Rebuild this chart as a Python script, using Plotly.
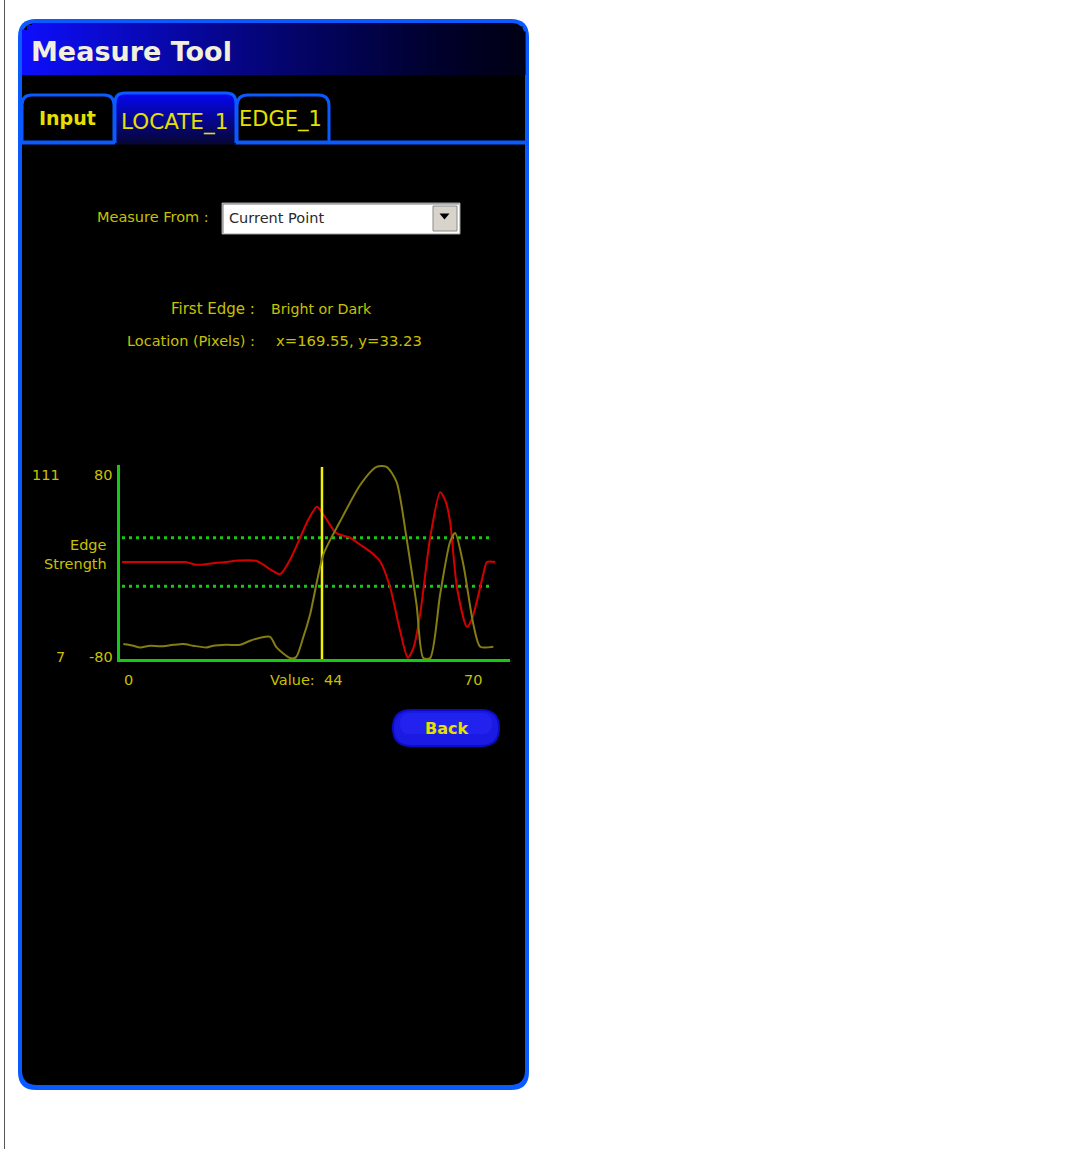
import math
import plotly.graph_objects as go

# ---------------- data ----------------
red_x = [0, 4, 8, 12, 14, 16, 18, 20, 23, 25.5, 29.5, 31, 32.6, 34.8, 37, 39.2, 41, 42.9, 44.5, 47.1,
         50.2, 52.5, 54.6, 56.8, 59, 61.2, 62.9, 64.2, 65.6, 67.8, 70, 71.2, 72.2, 73.7, 75.9, 77, 78.1, 79.5, 80.3, 82.1]
red_y = [0, 0, 0, 0, 0, -2, -2, -1, 0, 1.2, 1, -2, -6, -10, 2, 20, 35, 45.5, 38, 24,
         20, 14, 8.6, 0.4, -21, -57, -79, -70, -43, 20, 57.5, 50, 33, -21, -53.5, -47, -32, -10, 0, 0]

olive_x = [0.3, 2.5, 4, 6.2, 8.4, 11.3, 13.5, 15.7, 18.6, 20.1, 23, 26, 28.2, 30.4, 32.6, 34, 37, 38.3, 39.8,
           41.4, 44.3, 48, 52.4, 56, 58.2, 60.4, 62.6, 64.8, 66.3, 67.8, 70, 72.2, 73.3, 75.1, 77.3, 78.8, 81.7]
olive_y = [15, 14.1, 13.2, 14.1, 13.8, 14.6, 15, 14.1, 13.2, 14.1, 14.6, 14.6, 16.8, 18.4, 18.9, 13.2, 7.5, 8, 18,
           31, 63, 80.8, 100.3, 110, 110, 102, 71.9, 36.3, 7.5, 7.5, 41.7, 70, 74.6, 57.7, 25.7, 13.6, 13.6]

threshold_values = [20, -20]
current_value = 44
x_labels = ["0", "Value:  44", "70"]
left_scale_labels = ["111", "7"]
edge_scale_labels = ["80", "-80"]

W, H = 1082, 1149
BLUE = "#0a5aff"
YEL = "#e6e000"
LAB = "#c8c000"
GREEN = "#14c814"
FONT = "DejaVu Sans"


def X(x):
    return x / W


def Y(y):
    return 1 - y / H


def pt(x, y):
    return f"{X(x):.6f},{Y(y):.6f}"


def rrect(x0, y0, x1, y1, r, top_only=False, closed=True):
    s = f"M {pt(x0, y1 if top_only else y1 - r)} "
    s += f"L {pt(x0, y0 + r)} Q {pt(x0, y0)} {pt(x0 + r, y0)} "
    s += f"L {pt(x1 - r, y0)} Q {pt(x1, y0)} {pt(x1, y0 + r)} "
    if top_only:
        s += f"L {pt(x1, y1)}"
    else:
        s += f"L {pt(x1, y1 - r)} Q {pt(x1, y1)} {pt(x1 - r, y1)} "
        s += f"L {pt(x0 + r, y1)} Q {pt(x0, y1)} {pt(x0, y1 - r)}"
    if closed:
        s += " Z"
    return s


shapes = []


def add_path(path, fill=None, line=None, lw=0):
    d = dict(type="path", path=path, xref="paper", yref="paper", layer="below",
             line=dict(width=lw, color=line or "rgba(0,0,0,0)"))
    if fill:
        d["fillcolor"] = fill
    shapes.append(d)


def add_rect(x0, y0, x1, y1, fill, line=None, lw=0):
    shapes.append(dict(type="rect", xref="paper", yref="paper", layer="below",
                       x0=X(x0), x1=X(x1), y0=Y(y1), y1=Y(y0), fillcolor=fill,
                       line=dict(width=lw, color=line or "rgba(0,0,0,0)")))


def add_line(x0, y0, x1, y1, color, lw):
    shapes.append(dict(type="line", xref="paper", yref="paper", layer="below",
                       x0=X(x0), x1=X(x1), y0=Y(y0), y1=Y(y1),
                       line=dict(width=lw, color=color)))


# left gray page line
add_line(4.5, 0, 4.5, H, "#555555", 1)

# window frame
add_path(rrect(18, 19, 529, 1090, 18), fill=BLUE)
add_path(rrect(22, 23, 525, 1085, 15), fill="#000000")

# header gradient strips
hx0, hx1, hy0, hy1, hr = 22, 525, 23, 75, 15
step = 5
xa = hx0
while xa < hx1:
    xb = min(xa + step, hx1)
    cx = (xa + xb) / 2
    top = hy0
    if cx < hx0 + hr:
        dx = hx0 + hr - cx
        top = hy0 + hr - math.sqrt(max(hr * hr - dx * dx, 0))
    elif cx > hx1 - hr:
        dx = cx - (hx1 - hr)
        top = hy0 + hr - math.sqrt(max(hr * hr - dx * dx, 0))
    t = (cx - hx0) / (hx1 - hx0)
    b = int(232 * (1 - t) ** 1.3 + 22)
    rg = int(14 * (1 - t) ** 1.5)
    add_rect(xa, top, xb + 0.6, hy1, f"rgb({rg},{rg},{b})")
    xa = xb

# tabs
add_path(rrect(22, 95, 114, 143, 10, top_only=True, closed=False), fill="#000000", line=BLUE, lw=3)
add_path(rrect(237, 95, 329, 143, 11, top_only=True, closed=False), fill="#000000", line=BLUE, lw=3)
add_line(22, 142.5, 115, 142.5, BLUE, 4)
add_line(235, 142.5, 525, 142.5, BLUE, 4)
tx0, tx1, ty0, ty1, tr = 115, 236, 93, 144, 10
ya = ty0
while ya < ty1:
    yb = min(ya + 2, ty1)
    cy = (ya + yb) / 2
    inset = 0
    if cy < ty0 + tr:
        dy = ty0 + tr - cy
        inset = tr - math.sqrt(max(tr * tr - dy * dy, 0))
    t = (cy - ty0) / (ty1 - ty0)
    b = int(245 - 195 * t)
    add_rect(tx0 + inset, ya, tx1 - inset, yb + 0.5, f"rgb(6,6,{b})")
    ya = yb
add_path(rrect(115, 93, 236, 143, 10, top_only=True, closed=False), line=BLUE, lw=3)

# dropdown
add_rect(222, 203, 460, 234, "#ffffff", line="#9a9a9a", lw=1)
add_line(223, 204, 459, 204, "#7a7a7a", 1)
add_line(223, 204, 223, 233, "#7a7a7a", 1)
add_rect(433, 206, 457, 231, "#d8d4cc", line="#8a8a8a", lw=1)
add_path(f"M {pt(439.5, 213.5)} L {pt(449.5, 213.5)} L {pt(444.5, 219.5)} Z", fill="#000000")

# back button
add_path(rrect(392, 709, 500, 747, 19), fill="#0c0cc4")
add_path(rrect(394, 711, 498, 745, 17), fill="#1a1ae2")
add_path(rrect(400, 713, 492, 734, 10), fill="#2222ee")

# ---------------- chart ----------------
PX0, PX1, PY0, PY1 = 120, 510, 465, 659
K = 4.545
xr = [(PX0 - 122) / K, (PX1 - 122) / K]

fig = go.Figure()
for v in threshold_values:
    fig.add_trace(go.Scatter(x=[0, 81], y=[v, v], mode="lines",
                             line=dict(color=GREEN, width=3, dash="3px,4px"),
                             hoverinfo="skip", showlegend=False))
fig.add_trace(go.Scatter(x=olive_x, y=olive_y, mode="lines", yaxis="y2",
                         line=dict(color="#857d12", width=2, shape="spline", smoothing=0.7),
                         showlegend=False))
fig.add_trace(go.Scatter(x=red_x, y=red_y, mode="lines",
                         line=dict(color="#d40000", width=2, shape="spline", smoothing=0.7),
                         showlegend=False))
fig.add_trace(go.Scatter(x=[current_value, current_value], y=[-80, 78.4], mode="lines",
                         line=dict(color="#f2f200", width=2.5), showlegend=False))

ann = []


def text(x, y, s, size=15, color=LAB, xanchor="left", bold=False, family=FONT):
    ann.append(dict(x=X(x), y=Y(y), xref="paper", yref="paper", text=(f"<b>{s}</b>" if bold else s),
                    showarrow=False, xanchor=xanchor, yanchor="middle",
                    font=dict(family=family, size=size, color=color)))


text(29, 51, "Measure Tool", size=27, color="#f2f0dc", bold=True)
text(67, 118, "Input", size=19, color=YEL, xanchor="center", bold=True)
text(174, 122, "LOCATE_1", size=21.5, color=YEL, xanchor="center")
text(280, 119, "EDGE_1", size=21, color=YEL, xanchor="center")
text(211, 217, "Measure From :", size=14.5, xanchor="right")
text(227, 218, "Current Point", size=14.5, color="#2a2a2a")
text(257, 309, "First Edge :", size=15, xanchor="right")
text(269, 309, "Bright or Dark", size=14.2)
text(257, 341, "Location (Pixels) :", size=14.5, xanchor="right")
text(274, 341, "x=169.55, y=33.23", size=14.8)
text(46, 475, left_scale_labels[0], size=14.5, xanchor="center")
text(103, 475, edge_scale_labels[0], size=14.5, xanchor="center")
text(109, 545, "Edge", size=14.5, xanchor="right")
text(109, 564, "Strength", size=14.5, xanchor="right")
text(60, 657, left_scale_labels[1], size=14.5, xanchor="center")
text(101, 657, edge_scale_labels[1], size=14.5, xanchor="center")
text(128, 680, x_labels[0], size=14.5, xanchor="center")
text(306, 680, x_labels[1], size=14.5, xanchor="center")
text(473, 680, x_labels[2], size=14.5, xanchor="center")
text(446, 729, "Back", size=16, color=YEL, xanchor="center", bold=True)

fig.update_layout(
    width=W, height=H, margin=dict(l=0, r=0, t=0, b=0),
    paper_bgcolor="#ffffff", plot_bgcolor="rgba(0,0,0,0)",
    showlegend=False, shapes=shapes, annotations=ann,
    xaxis=dict(domain=[X(PX0), X(PX1)], range=xr, showgrid=False, zeroline=False,
               showticklabels=False, ticks="", showline=True, linecolor=GREEN, linewidth=3,
               fixedrange=True),
    yaxis=dict(domain=[Y(PY1), Y(PY0)], range=[-80, 80], showgrid=False, zeroline=False,
               showticklabels=False, ticks="", showline=True, linecolor=GREEN, linewidth=3,
               fixedrange=True),
    yaxis2=dict(overlaying="y", range=[7, 111], visible=False, fixedrange=True),
)

fig.write_html("out.html", config={"displayModeBar": False},
               post_script="document.body.style.margin='0';document.body.style.overflow='hidden';")
